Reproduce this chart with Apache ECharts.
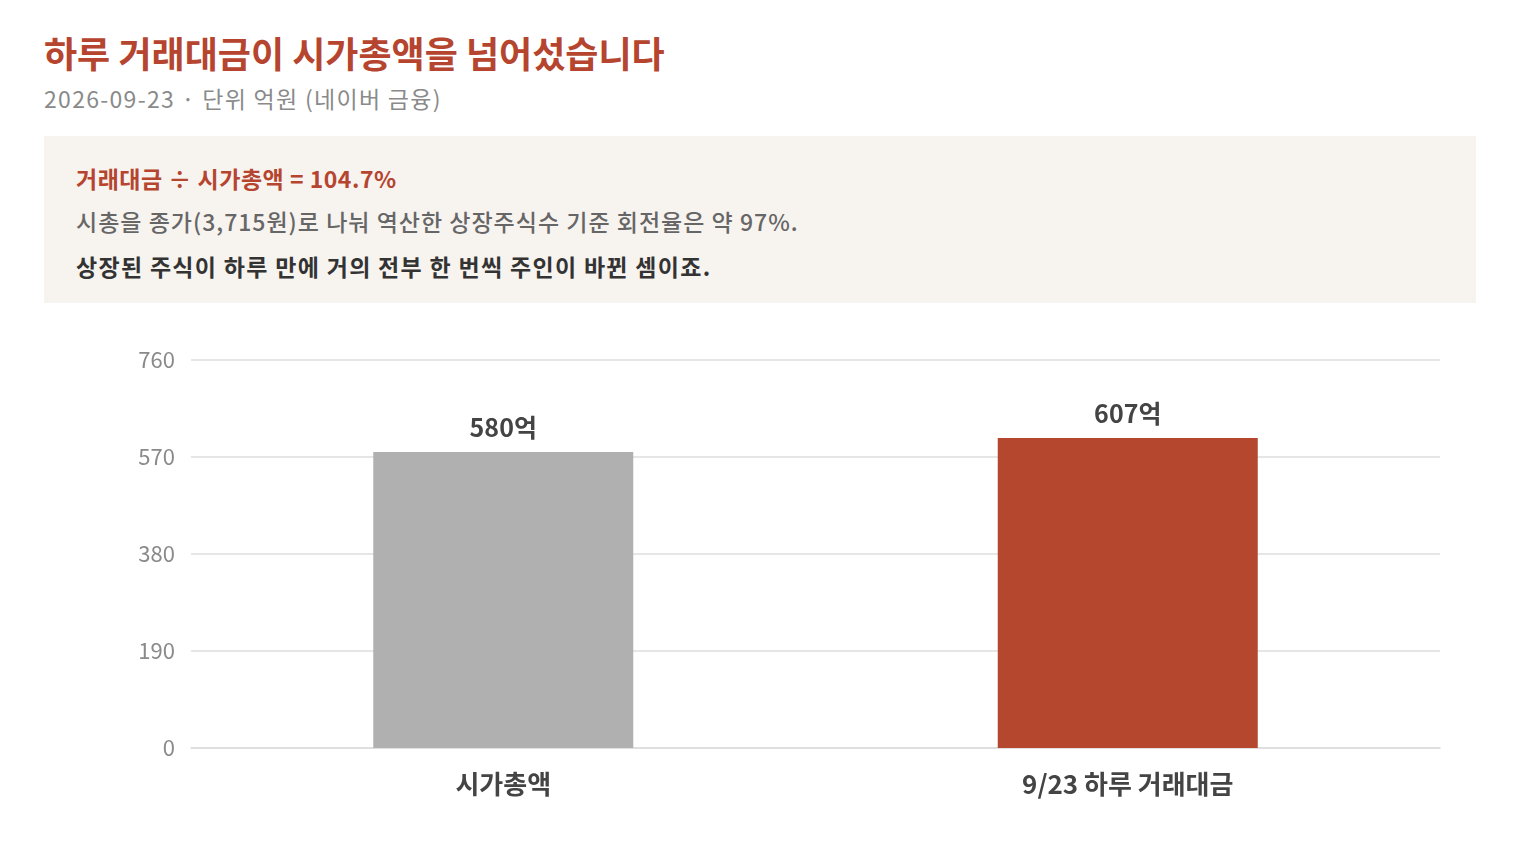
<!DOCTYPE html>
<html>
<head>
<meta charset="utf-8">
<script src="https://cdn.jsdelivr.net/npm/echarts@6/dist/echarts.min.js"></script>
<style>
  body { margin: 0; background: #fff; font-family: "Noto Sans CJK KR", "Noto Sans", sans-serif; }
  #wrap { position: relative; width: 1520px; height: 860px; overflow: hidden; }
  #title { position: absolute; left: 44px; top: 26px; font-size: 36px; font-weight: 700; color: #b5452f; white-space: nowrap; }
  #sub { position: absolute; left: 44px; top: 81px; font-size: 23px; color: #8a8a8a; letter-spacing: 1.3px; white-space: nowrap; }
  #note { position: absolute; left: 44px; top: 136px; width: 1432px; height: 167px; background: #f7f3ef; }
  #note div { position: absolute; left: 32px; font-size: 23px; white-space: nowrap; }
  #n1 { top: 25px; color: #b5452f; font-weight: 700; letter-spacing: 0.5px; }
  #n2 { top: 68px; color: #666; font-weight: 500; letter-spacing: 1px; }
  #n3 { top: 113px; color: #333; font-weight: 700; letter-spacing: 1.3px; }
  #chart { position: absolute; left: 0; top: 300px; width: 1520px; height: 560px; }
</style>
</head>
<body>
<div id="wrap">
  <div id="title">하루 거래대금이 시가총액을 넘어섰습니다</div>
  <div id="sub">2026-09-23 · 단위 억원 (네이버 금융)</div>
  <div id="note">
    <div id="n1">거래대금 ÷ 시가총액 = 104.7%</div>
    <div id="n2">시총을 종가(3,715원)로 나눠 역산한 상장주식수 기준 회전율은 약 97%.</div>
    <div id="n3">상장된 주식이 하루 만에 거의 전부 한 번씩 주인이 바뀐 셈이죠.</div>
  </div>
  <div id="chart"></div>
</div>
<script>
// 카테고리 / 값 (억원)
var categories = ['시가총액', '9/23 하루 거래대금'];
var values = [580, 607];
var barColors = ['#b0b0b0', '#b5472f'];
var yTicks = [0, 190, 380, 570, 760];

var oChart = echarts.init(document.getElementById('chart'));

var data = [];
for (var i = 0; i < values.length; i++) {
    data.push({ value: values[i], itemStyle: { color: barColors[i] } });
}

var opt = {
    animation: false,
    textStyle: { fontFamily: '"Noto Sans CJK KR", "Noto Sans", sans-serif' },
    grid: { left: 191, right: 80, top: 60, bottom: 112 },
    xAxis: {
        type: 'category',
        data: categories,
        axisTick: { show: false },
        axisLine: { lineStyle: { color: '#dddddd', width: 1.5 } },
        axisLabel: { margin: 23, fontSize: 26, fontWeight: 'bold', color: '#444' }
    },
    yAxis: {
        type: 'value',
        min: yTicks[0],
        max: yTicks[yTicks.length - 1],
        interval: yTicks[1] - yTicks[0],
        axisLine: { show: false },
        axisTick: { show: false },
        axisLabel: { margin: 16, fontSize: 22, color: '#8a8a8a' },
        splitLine: { lineStyle: { color: '#dedede', width: 1.5 } }
    },
    series: [{
        type: 'bar',
        barWidth: 260,
        data: data,
        label: {
            show: true,
            position: 'top',
            distance: 12,
            fontSize: 25,
            fontWeight: 'bold',
            color: '#444',
            formatter: function (p) { return p.value + '억'; }
        }
    }]
};

oChart.setOption(opt);
</script>
</body>
</html>
